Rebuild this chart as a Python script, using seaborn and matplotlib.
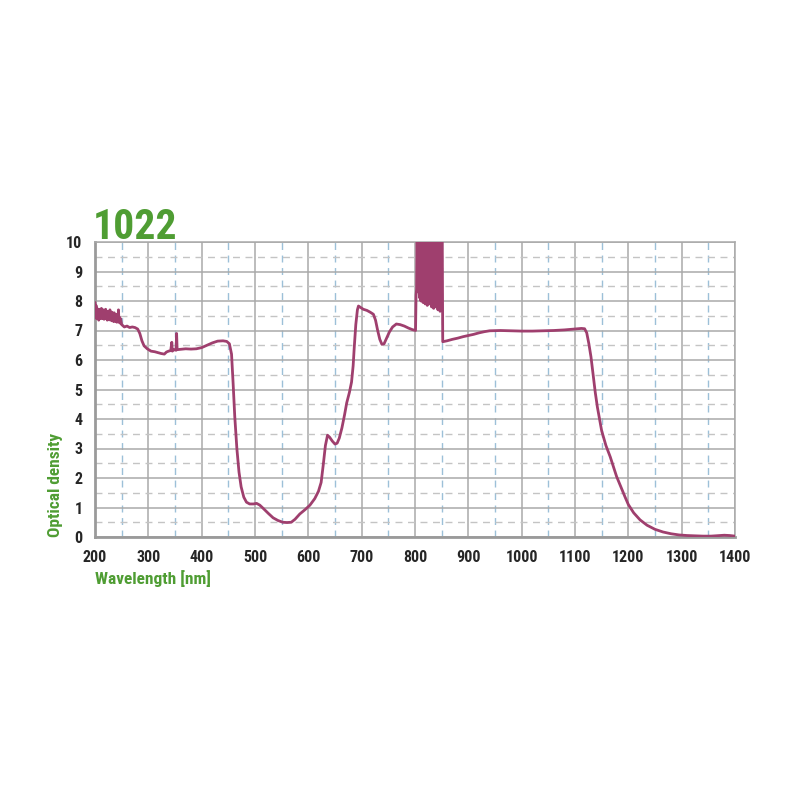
import matplotlib
matplotlib.use('Agg')
import matplotlib.pyplot as plt
import seaborn as sns
import numpy as np
import pandas as pd
from matplotlib.ticker import MultipleLocator

# UV part (noisy below 250 nm)
uv_nm = [200, 201, 202, 203, 204, 205, 206, 207, 208, 209, 210, 211, 212, 213, 214,
         215, 216, 217, 218, 219, 220, 221, 222, 223, 224, 225, 226, 227, 228, 229,
         230, 231, 232, 233, 234, 235, 236, 237, 238, 239, 240, 241, 242, 243, 244,
         245, 246, 247, 248, 250, 255, 260, 265, 270,
         275, 280, 284, 288, 292, 298, 305, 312, 318, 324, 330, 334, 338, 342, 344,
         345, 348, 352, 353, 354, 360, 370, 380, 390, 400, 410, 420, 430, 440, 447, 452]
uv_od = [7.95, 7.55, 7.85, 7.4, 7.75, 7.45, 7.7, 7.35, 7.72, 7.4, 7.65, 7.45, 7.75, 7.4, 7.6,
         7.45, 7.7, 7.38, 7.68, 7.42, 7.72, 7.4, 7.6, 7.35, 7.65, 7.42, 7.58, 7.36, 7.7, 7.4,
         7.55, 7.33, 7.62, 7.35, 7.55, 7.3, 7.6, 7.35, 7.5, 7.3, 7.55, 7.28, 7.5, 7.3, 7.7,
         7.28, 7.45, 7.25, 7.4, 7.2, 7.12, 7.15, 7.1, 7.12,
         7.1, 7.05, 6.9, 6.65, 6.48, 6.38, 6.3, 6.28, 6.25, 6.22, 6.2, 6.27, 6.3, 6.32, 6.6,
         6.3, 6.35, 6.33, 6.9, 6.35, 6.36, 6.38, 6.37, 6.38, 6.42, 6.5, 6.58, 6.64, 6.65, 6.63, 6.55]

# visible part
vis_nm = [456, 459, 462, 466, 470, 474, 479, 484, 490, 497, 503, 509, 516, 525, 534,
          543, 552, 560, 568, 575, 584, 594, 603, 612, 619, 624, 628, 632, 636, 640,
          645, 650, 654, 658, 663, 668, 672, 677, 681, 684, 686, 689, 692, 694, 698,
          703, 710, 716, 722, 726, 730, 734, 738, 742, 747, 752, 758, 765, 772, 780,
          788, 795, 801]
vis_od = [6.2, 5.2, 4.1, 3.0, 2.2, 1.7, 1.35, 1.18, 1.12, 1.12, 1.14, 1.08, 0.96, 0.8, 0.65,
          0.56, 0.5, 0.49, 0.5, 0.6, 0.78, 0.93, 1.08, 1.3, 1.55, 1.85, 2.45, 3.1, 3.45, 3.38,
          3.25, 3.15, 3.18, 3.35, 3.7, 4.15, 4.55, 4.9, 5.25, 5.8, 6.4, 7.2, 7.7, 7.83, 7.78,
          7.72, 7.68, 7.62, 7.55, 7.35, 7.0, 6.7, 6.53, 6.55, 6.75, 6.95, 7.12, 7.22, 7.2, 7.15,
          7.08, 7.03, 7.0]

# saturated / noisy region around 800-850 nm
spike_nm = [802, 803, 804, 805, 806, 807, 808, 809, 810, 811, 812, 813, 814, 815, 816,
            817, 818, 819, 820, 821, 822, 823, 824, 825, 826, 827, 828, 829, 830, 831,
            832, 833, 834, 835, 836, 837, 838, 839, 840, 841, 842, 843, 844, 845, 846,
            847, 848, 849, 850, 851]
spike_od = [8.2, 8.4, 10.5, 8.5, 10.5, 8.3, 10.5, 8.1, 10.5, 8.0, 10.5, 8.05, 10.5, 7.95, 10.5,
            8.1, 10.5, 7.9, 10.5, 8.2, 10.5, 7.85, 10.5, 8.0, 10.5, 7.9, 10.5, 8.1, 10.5, 7.8,
            10.5, 7.95, 10.5, 7.75, 10.5, 8.0, 10.5, 7.8, 10.5, 7.9, 10.5, 7.7, 10.5, 7.85, 10.5,
            7.65, 10.5, 7.8, 10.5, 10.5]

# near infrared part
nir_nm = [852, 860, 870, 880, 890, 900, 910, 920, 930, 940, 960, 980, 1000, 1020, 1040,
          1060, 1080, 1100, 1112, 1118, 1122, 1126, 1130, 1134, 1138, 1142, 1150, 1158, 1166,
          1178, 1186, 1194, 1200, 1210, 1222, 1235, 1250, 1265, 1280, 1295, 1310, 1325, 1340,
          1355, 1370, 1380, 1390, 1400]
nir_od = [6.62, 6.65, 6.7, 6.74, 6.79, 6.83, 6.87, 6.92, 6.96, 6.99, 7.0, 6.99, 6.98, 6.98, 6.99,
          7.0, 7.02, 7.05, 7.07, 7.06, 6.92, 6.55, 6.1, 5.5, 4.9, 4.4, 3.6, 3.1, 2.72,
          2.05, 1.7, 1.35, 1.1, 0.82, 0.58, 0.4, 0.26, 0.17, 0.11, 0.07, 0.05, 0.04, 0.03,
          0.03, 0.05, 0.06, 0.05, 0.03]

df = pd.DataFrame({'nm': uv_nm + vis_nm + spike_nm + nir_nm,
                   'od': uv_od + vis_od + spike_od + nir_od})

sns.set_style('white')
plt.rcParams['font.family'] = ['Roboto Condensed', 'DejaVu Sans']

green = '#4f9d33'
line_col = '#9f3f6e'

fig = plt.figure(figsize=(8, 8), dpi=100)
ax = fig.add_axes([95/800, 1-537/800, 640/800, 295/800])

sns.lineplot(data=df, x='nm', y='od', ax=ax, sort=False, estimator=None,
             color=line_col, linewidth=2.0, zorder=5)

ax.set(xlim=(200, 1400), ylim=(0, 10))
ax.xaxis.set_major_locator(MultipleLocator(100))
ax.xaxis.set_minor_locator(MultipleLocator(50))
ax.yaxis.set_major_locator(MultipleLocator(1))
ax.yaxis.set_minor_locator(MultipleLocator(0.5))

ax.grid(which='major', color='#a9a9a9', linewidth=1.1, linestyle='-')
ax.grid(which='minor', axis='x', color='#9cc0d8', linewidth=1.0, linestyle=(0, (5, 4)))
ax.grid(which='minor', axis='y', color='#c4c4c4', linewidth=1.0, linestyle=(0, (5, 4)))
ax.set_axisbelow(True)

for side in ['left', 'bottom']:
    ax.spines[side].set_color('#9a9a9a')
    ax.spines[side].set_linewidth(2.0)
for side in ['top', 'right']:
    ax.spines[side].set_color('#a9a9a9')
    ax.spines[side].set_linewidth(1.1)

ax.tick_params(which='major', direction='out', length=4, width=1.5, color='#9a9a9a',
               labelsize=11.5, pad=5)
ax.tick_params(which='minor', length=0)
for lab in ax.get_xticklabels() + ax.get_yticklabels():
    lab.set_fontweight('bold')

ax.set_xlabel('Wavelength [nm]', loc='left', color=green, fontsize=12.5,
              fontweight='bold', labelpad=4)
ax.set_ylabel('Optical density', loc='bottom', color=green, fontsize=12.5,
              fontweight='bold', labelpad=2)

fig.text(93/800, 1-239/800, '1022', color=green, fontsize=30, fontweight='bold',
         ha='left', va='baseline')

fig.savefig('out.png', dpi=100)
